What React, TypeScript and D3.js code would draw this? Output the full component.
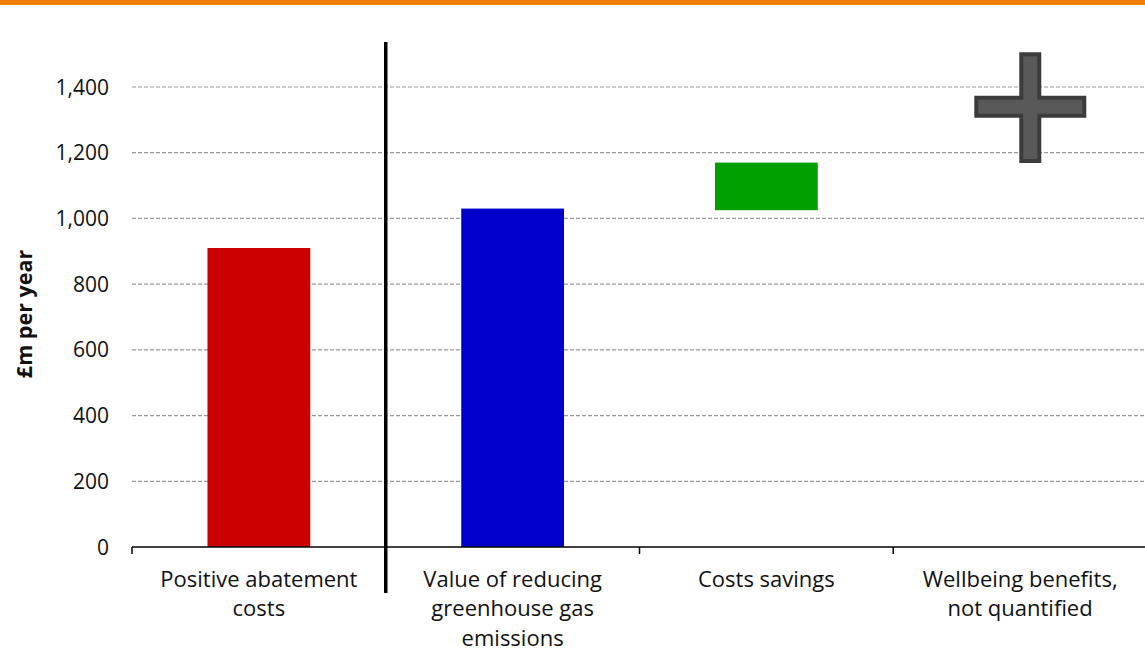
import React from "react";
import * as d3 from "d3";

const categories = [
  ["Positive abatement", "costs"],
  ["Value of reducing", "greenhouse gas", "emissions"],
  ["Costs savings"],
  ["Wellbeing benefits,", "not quantified"],
];
const barLow = [0, 0, 1025, null];
const barHigh = [910, 1030, 1170, null];
const barColors = ["#cc0000", "#0000cc", "#00a000", null];
const plusLow = 1175;
const plusHigh = 1500;
const plusMid = 1340;
const yTicks = [0, 200, 400, 600, 800, 1000, 1200, 1400];
const yLabel = "£m per year";

const W = 1145;
const H = 648;
const m = { left: 132, right: 1147, top: 87, bottom: 547 };
const FONT = "'Open Sans', 'Noto Sans', sans-serif";

export default function App() {
  const x = d3.scaleBand<number>().domain(d3.range(4)).range([m.left, m.right]).paddingInner(0).paddingOuter(0);
  const y = d3.scaleLinear().domain([0, 1400]).range([m.bottom, m.top]);
  const bw = x.bandwidth() * 0.405;
  const fmt = d3.format(",");
  const plusCx = (x(3) as number) + x.bandwidth() * 0.54;
  const plusW = 108;
  const thick = 18;

  return (
    <svg width={W} height={H} style={{ position: "absolute", left: 0, top: 0, background: "#fff" }} fontFamily={FONT}>
      <rect x={0} y={0} width={W} height={5} fill="#f07f00" />
      {yTicks.filter((t) => t > 0).map((t) => (
        <line key={t} x1={m.left} x2={W} y1={y(t)} y2={y(t)} stroke="#999" strokeWidth={1.2} strokeDasharray="4,2" />
      ))}
      {yTicks.map((t) => (
        <text key={t} x={109} y={y(t)} dy="0.36em" textAnchor="end" fontSize={21} fill="#111">
          {fmt(t)}
        </text>
      ))}
      <text transform={`translate(32,314) rotate(-90)`} textAnchor="middle" fontSize={21.5} fontWeight="bold" fill="#111">
        {yLabel}
      </text>
      {barHigh.map((v, i) =>
        v == null ? null : (
          <rect key={i} x={(x(i) as number) + (x.bandwidth() - bw) / 2} y={y(v)} width={bw} height={y(barLow[i] as number) - y(v)} fill={barColors[i] as string} />
        )
      )}
      <g>
        <path
          d={`M${plusCx - thick / 2},${y(plusHigh)} h${thick} V${y(plusMid) - thick / 2} H${plusCx + plusW / 2} v${thick} H${plusCx + thick / 2} V${y(plusLow)} h${-thick} V${y(plusMid) + thick / 2} H${plusCx - plusW / 2} v${-thick} H${plusCx - thick / 2} Z`}
          fill="#595959"
          stroke="#3c3c3c"
          strokeWidth={4}
        />
      </g>
      <line x1={m.left} x2={W} y1={m.bottom} y2={m.bottom} stroke="#000" strokeWidth={1.5} />
      {d3.range(4).map((i) => (
        <line key={i} x1={x(i) as number} x2={x(i) as number} y1={m.bottom} y2={m.bottom + 7} stroke="#000" strokeWidth={1.5} />
      ))}
      <line x1={x(1) as number} x2={x(1) as number} y1={42} y2={593} stroke="#000" strokeWidth={3.5} />
      {categories.map((lines, i) => (
        <text key={i} textAnchor="middle" fontSize={22} fill="#111">
          {lines.map((l, j) => (
            <tspan key={j} x={(x(i) as number) + x.bandwidth() / 2} y={586.5 + j * 29.5}>
              {l}
            </tspan>
          ))}
        </text>
      ))}
    </svg>
  );
}
